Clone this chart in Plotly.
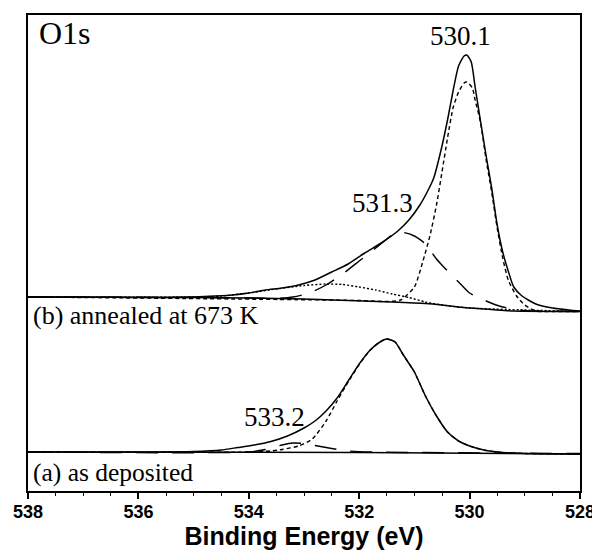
import plotly.graph_objects as go

# ---------------- data (binding energy in eV, intensity in arbitrary units) ----------------
# (b) annealed at 673 K
b_total_be = [538.0, 537.0, 536.0, 535.5, 535.0, 534.6, 534.3, 534.0, 533.7, 533.4, 533.1, 532.8,
              532.5, 532.2, 531.9, 531.6, 531.3, 531.1, 530.9, 530.75, 530.65, 530.5, 530.4, 530.3,
              530.2, 530.1, 530.05, 529.97, 529.9, 529.8, 529.7, 529.6, 529.5, 529.4, 529.3, 529.2,
              529.05, 528.8, 528.5, 528.2, 528.0]
b_total = [194, 194, 193.5, 193.5, 194, 195, 196, 198, 201, 203, 206, 211,
           219, 227, 238, 248, 260, 271, 286, 301, 313, 345, 371, 400,
           425, 435, 436, 429, 404, 369, 335, 303, 266, 239, 220, 204,
           195, 187, 183, 181, 180]

b_bg_be = [538.0, 535.0, 534.0, 533.0, 532.2, 531.4, 530.8, 530.5, 530.2, 530.0, 529.6, 529.2, 528.0]
b_bg = [194, 193.5, 193, 192, 190.5, 189, 187.5, 186, 184, 183, 181.5, 180, 179.5]

b_p1_be = [538.0, 532.0, 531.5, 531.25, 531.0, 530.85, 530.72, 530.6, 530.5, 530.4, 530.3, 530.2,
           530.1, 530.05, 529.95, 529.9, 529.8, 529.7, 529.6, 529.5, 529.4, 529.3, 529.15, 529.0,
           528.8, 528.5, 528.0]
b_p1 = [194, 190.5, 189.5, 191, 204, 229, 255, 286, 319, 353, 383, 399,
        408, 409, 403, 391, 368, 331, 299, 263, 233, 211, 195, 186,
        180, 179.5, 179.5]

b_p2_be = [538.0, 535.0, 534.0, 533.5, 533.2, 532.9, 532.6, 532.3, 532.0, 531.7, 531.4, 531.2,
           531.0, 530.8, 530.6, 530.4, 530.2, 530.0, 529.7, 529.4, 529.1, 528.8, 528.0]
b_p2 = [194, 193.5, 193, 192.5, 194, 198, 206, 217, 230, 243, 256, 258.5,
        255, 247, 232, 220, 209, 198, 190, 184, 181, 180, 179.5]

b_p3_be = [538.0, 535.0, 534.5, 534.0, 533.5, 533.0, 532.6, 532.3, 532.0, 531.7, 531.4, 531.1,
           530.8, 530.5, 530.0, 528.0]
b_p3 = [194, 194, 195, 198, 202, 205.5, 207, 206.5, 204, 201, 197, 193.5,
        189, 186, 183, 179.5]

# (a) as deposited
a_total_be = [538.0, 536.0, 535.0, 534.5, 534.2, 533.9, 533.6, 533.3, 533.0, 532.8, 532.6, 532.4,
              532.2, 532.0, 531.8, 531.65, 531.5, 531.35, 531.2, 531.0, 530.8, 530.6, 530.4, 530.2,
              530.0, 529.7, 529.4, 529.0, 528.0]
a_total = [39, 39, 39.5, 41, 43.5, 46, 49.5, 55, 63, 70, 80, 93,
           110, 127, 141, 148, 152, 149, 136, 119, 95, 75, 59, 50,
           45, 40.5, 38.5, 37.5, 37]

a_p1_be = [538.0, 534.0, 533.6, 533.4, 533.1, 532.85, 532.6, 532.4, 532.2, 532.0, 531.8, 531.65,
           531.5, 531.35, 531.2, 531.0, 530.8, 530.6, 530.4, 530.2, 530.0, 529.7, 529.4, 529.0, 528.0]
a_p1 = [39, 39, 40, 41.5, 45, 52, 70, 90, 109, 126.5, 141, 148,
        152, 149, 136, 119, 95, 75, 59, 50, 45, 40.5, 38.5, 37.5, 37]

a_p2_be = [538.0, 534.0, 533.7, 533.4, 533.2, 533.0, 532.8, 532.5, 532.2, 531.8, 528.0]
a_p2 = [39, 39, 41.5, 46, 48, 47.5, 45.5, 42.5, 40, 39, 37.5]

a_bg_be = [538.0, 532.0, 528.0]
a_bg = [39, 38.5, 37]

x_ticks = [538, 536, 534, 532, 530, 528]
x_tick_labels = ["538", "536", "534", "532", "530", "528"]

# peak labels: (text, energy, intensity)
peak_labels = [("530.1", 530.17, 455), ("531.3", 531.57, 288), ("533.2", 533.54, 74)]

# ---------------- figure ----------------
fig = go.Figure()

SOLID = dict(color="black", width=1.5)
SHORT = dict(color="black", width=1.4, dash="4px,3px")
LONG = dict(color="black", width=1.4, dash="22px,14px")
DOT = dict(color="black", width=1.4, dash="2px,2px")

def add(x, y, line):
    fig.add_trace(go.Scatter(x=x, y=y, mode="lines", line=dict(shape="spline", smoothing=0.6, **line),
                             showlegend=False, hoverinfo="skip"))

add(b_bg_be, b_bg, SOLID)
add(b_p3_be, b_p3, DOT)
add(b_p2_be, b_p2, LONG)
add(b_p1_be, b_p1, SHORT)
add(b_total_be, b_total, SOLID)

add(a_bg_be, a_bg, SOLID)
add(a_p2_be, a_p2, LONG)
add(a_p1_be, a_p1, SHORT)
add(a_total_be, a_total, SOLID)

serif = "Liberation Serif"
sans = "Liberation Sans"

for txt, xe, yi in peak_labels:
    fig.add_annotation(x=xe, y=yi, text=txt, showarrow=False, xanchor="center", yanchor="middle",
                       font=dict(family=serif, size=27, color="black"))

fig.add_annotation(x=537.84, y=458, text="O1s", showarrow=False, xanchor="left", yanchor="middle",
                   font=dict(family=serif, size=32, color="black"))
fig.add_annotation(x=537.95, y=176, text="(b) annealed at 673 K", showarrow=False, xanchor="left",
                   yanchor="middle", font=dict(family=serif, size=26, color="black"))
fig.add_annotation(x=537.95, y=19, text="(a) as deposited", showarrow=False, xanchor="left",
                   yanchor="middle", font=dict(family=serif, size=25.5, color="black"))

fig.update_layout(
    width=592, height=545,
    margin=dict(l=20, r=20, t=7, b=62, autoexpand=False),
    plot_bgcolor="white", paper_bgcolor="white",
    xaxis=dict(
        range=[538, 528], showgrid=False, zeroline=False, automargin=False,
        showline=True, linecolor="black", linewidth=2, mirror=True,
        ticks="outside", ticklen=6, tickwidth=1.5, tickcolor="black",
        tickvals=x_ticks, ticktext=x_tick_labels, ticklabelstandoff=-3,
        tickfont=dict(family=sans, size=18, color="black", weight="bold"),
        minor=dict(dtick=0.5, ticks="outside", ticklen=3, tickwidth=1, tickcolor="black"),
        title=dict(text="Binding Energy (eV)", standoff=0,
                   font=dict(family=sans, size=25, color="black", weight="bold")),
    ),
    yaxis=dict(
        range=[0, 476], showgrid=False, zeroline=False, showticklabels=False, ticks="",
        automargin=False,
        showline=True, linecolor="black", linewidth=2, mirror=True,
    ),
)

fig.write_html("out.html")
